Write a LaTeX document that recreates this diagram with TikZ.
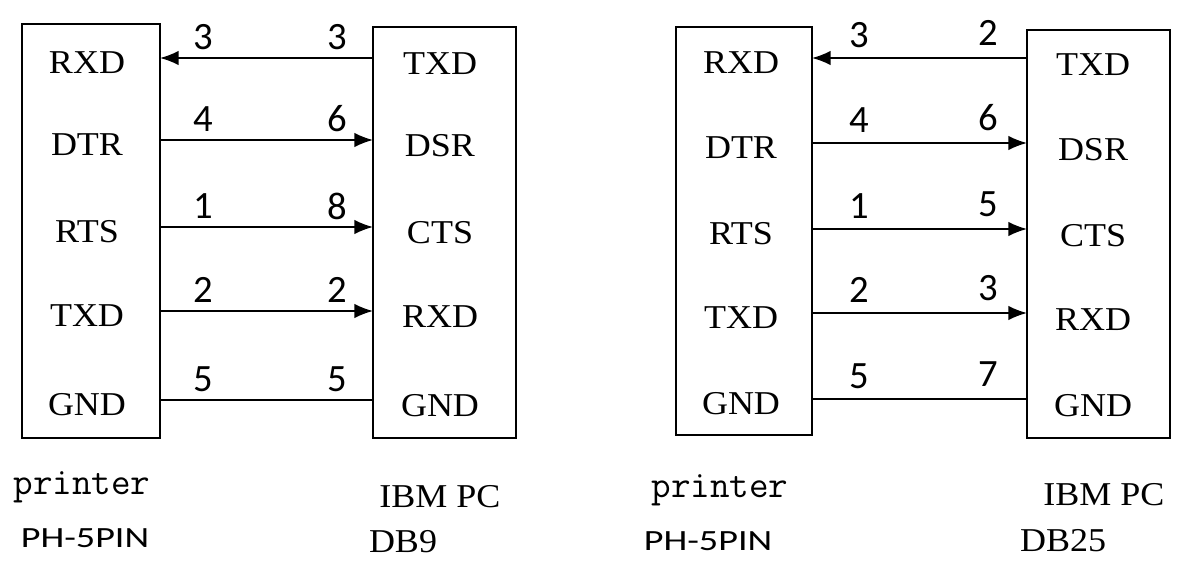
\documentclass[tikz,border=0pt]{standalone}
\usepackage{fontspec}
\setmainfont[FakeStretch=1.08]{Liberation Serif}
\newfontfamily\numfont{Carlito}
\newfontfamily\partfont[FakeStretch=1.3]{Carlito}
\usetikzlibrary{arrows.meta}

\tikzset{
  box/.style={line width=1.5pt},
  wire/.style={line width=1.4pt},
  arr/.style={-{Latex[length=14pt,width=11pt]}},
  pin/.style={inner sep=0pt,font=\fontsize{25}{27}\selectfont},
  num/.style={inner sep=0pt,font=\numfont\fontsize{29}{30}\selectfont},
  dev/.style={inner sep=0pt,font=\fontsize{25}{27}\selectfont},
  prt/.style={inner sep=0pt,font=\ttfamily\fontsize{28.5}{30}\selectfont},
  part/.style={inner sep=0pt,font=\partfont\fontsize{22}{23}\selectfont}
}

\begin{document}
\begin{tikzpicture}[x=0.75pt,y=-0.75pt]
\useasboundingbox (0,0) rectangle (1184,574);
% printer to DB9
\draw[box] (22,24) rectangle (160,438);
\draw[box] (373,27) rectangle (516,438);
\foreach \i/\yy/\pa/\pb/\na/\nb in {1/58/RXD/TXD/3/3,2/140/DTR/DSR/4/6,3/227/RTS/CTS/1/8,4/311/TXD/RXD/2/2,5/400/GND/GND/5/5}{
  \coordinate (a\i) at (160,\yy);
  \coordinate (b\i) at (373,\yy);
  \node[pin] (pa\i) at (87,\yy+5) {\pa};
  \node[pin] (pb\i) at (440,\yy+6) {\pb};
  \node[num] (na\i) at (203,\yy-21) {\na};
  \node[num] (nb\i) at (337,\yy-21) {\nb};
}
\draw[wire,arr] (b1) -- (a1);
\foreach \i in {2,3,4}
  \draw[wire,arr] (a\i) -- (b\i);
\draw[wire] (a5) -- (b5);
\node[prt] (prtA) at (82,487) {printer};
\node[part] (phA) at (85,538) {PH-5PIN};
\node[dev] (pcA) at (440,497) {IBM PC};
\node[dev] (dbA) at (403,542) {DB9};
% printer to DB25
\draw[box] (676,27) rectangle (812,435);
\draw[box] (1027,30) rectangle (1170,438);
\foreach \i/\yy/\pa/\pb/\na/\nb in {1/58/RXD/TXD/3/2,2/143/DTR/DSR/4/6,3/229/RTS/CTS/1/5,4/313/TXD/RXD/2/3,5/399/GND/GND/5/7}{
  \coordinate (c\i) at (812,\yy);
  \coordinate (d\i) at (1027,\yy);
  \node[pin] (pc\i) at (741,\yy+5) {\pa};
  \node[pin] (pd\i) at (1093,\yy+7) {\pb};
  \node[num] (nc\i) at (859,\yy-23) {\na};
  \node[num] (nd\i) at (988,\yy-25) {\nb};
}
\draw[wire,arr] (d1) -- (c1);
\foreach \i in {2,3,4}
  \draw[wire,arr] (c\i) -- (d\i);
\draw[wire] (c5) -- (d5);
\node[prt] (prtB) at (720,490) {printer};
\node[part] (phB) at (708,541) {PH-5PIN};
\node[dev] (pcB) at (1104,495) {IBM PC};
\node[dev] (dbB) at (1063,541) {DB25};
\end{tikzpicture}
\end{document}
